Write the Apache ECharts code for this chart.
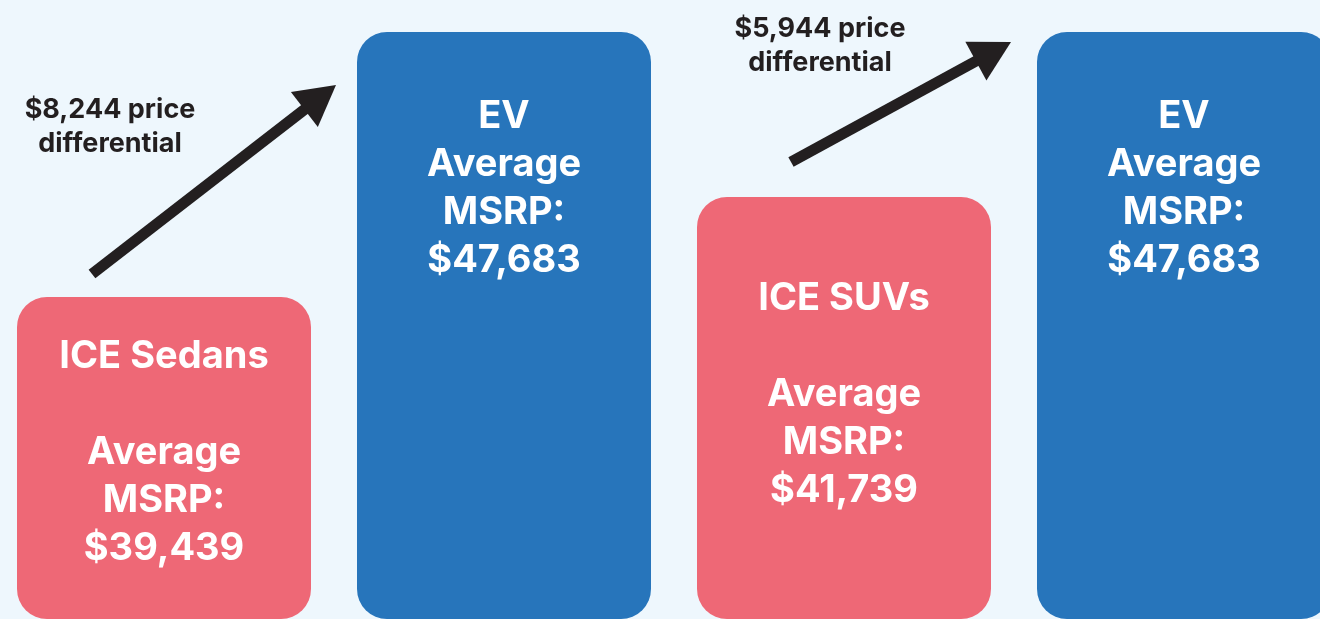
<!DOCTYPE html>
<html>
<head>
<meta charset="utf-8">
<script src="https://cdn.jsdelivr.net/npm/echarts@6/dist/echarts.min.js"></script>
<style>
  html, body { margin: 0; padding: 0; background: #eef7fd; }
  #chart { width: 1320px; height: 619px; }
</style>
</head>
<body>
<div id="chart"></div>
<script>
// categories and values
var categories = ['ICE Sedans', 'EV (vs sedans)', 'ICE SUVs', 'EV (vs SUVs)'];
var barTitles = ['ICE Sedans\n', 'EV', 'ICE SUVs\n', 'EV'];
var msrpValues = [39439, 47683, 41739, 47683];
// bar heights as drawn in the picture (the SUV bar is drawn taller than its value)
var barLevels = [39439, 47683, 42550, 47683];
var diffLabels = ['$8,244 price\ndifferential', '$5,944 price\ndifferential'];

var PINK = '#ee6876';
var BLUE = '#2775bb';
var DARK = '#231f20';
var FONT = 'Inter';

// distance of the label block from bar top
var labelDist = [36, 61, 78, 61];

var chart = echarts.init(document.getElementById('chart'));

function fmt(v){
	return '$' + v.toLocaleString('en-US');
}

var data = [];
for(var i = 0; i < barLevels.length; ++i){
	data.push({
		value : barLevels[i],
		itemStyle : { color : (i % 2 == 0) ? PINK : BLUE },
		label : { distance : labelDist[i] }
	});
}

// arrow from (x1,y1) to tip (x2,y2)
function arrow(x1, y1, x2, y2){
	var dx = x2 - x1, dy = y2 - y1;
	var len = Math.sqrt(dx * dx + dy * dy);
	var ux = dx / len, uy = dy / len;
	var px = -uy, py = ux;
	var headLen = 40, headW = 22;
	var bx = x2 - ux * headLen, by = y2 - uy * headLen;
	return [{
		type : 'line',
		shape : { x1 : x1, y1 : y1, x2 : bx + ux * 4, y2 : by + uy * 4 },
		style : { stroke : DARK, lineWidth : 11 }
	},{
		type : 'polygon',
		shape : { points : [[x2, y2], [bx + px * headW, by + py * headW], [bx - px * headW, by - py * headW]] },
		style : { fill : DARK }
	}];
}

var graphics = [].concat(
	arrow(92, 274, 336, 85),
	arrow(791, 162, 1011, 42),
	[{
		type : 'text',
		x : 110, y : 127,
		style : {
			text : diffLabels[0], fill : DARK, font : 'bold 27px ' + FONT,
			align : 'center', verticalAlign : 'middle', lineHeight : 34
		}
	},{
		type : 'text',
		x : 820, y : 46,
		style : {
			text : diffLabels[1], fill : DARK, font : 'bold 27px ' + FONT,
			align : 'center', verticalAlign : 'middle', lineHeight : 34
		}
	}]
);

var option = {
	backgroundColor : '#eef7fd',
	animation : false,
	// category ticks sit on the bar centres
	grid : { left : 164, right : 136, top : 32, bottom : 0 },
	xAxis : {
		type : 'category',
		data : categories,
		boundaryGap : false,
		show : false
	},
	yAxis : {
		type : 'value',
		min : 29422,
		max : 47683,
		show : false
	},
	series : [{
		type : 'bar',
		data : data,
		barWidth : 294,
		itemStyle : { borderRadius : 30 },
		label : {
			show : true,
			position : 'insideTop',
			color : '#ffffff',
			fontFamily : FONT,
			fontWeight : 'bold',
			fontSize : 38,
			lineHeight : 48,
			align : 'center',
			formatter : function(p){
				return barTitles[p.dataIndex] + '\nAverage\nMSRP:\n' + fmt(msrpValues[p.dataIndex]);
			}
		}
	}],
	graphic : graphics
};
chart.setOption(option);
</script>
</body>
</html>
